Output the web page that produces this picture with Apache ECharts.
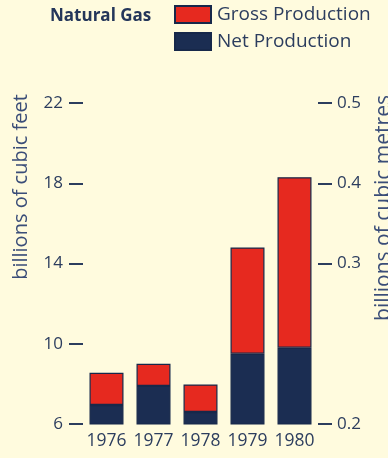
<!DOCTYPE html>
<html><head><meta charset="utf-8">
<script src="https://cdn.jsdelivr.net/npm/echarts@6/dist/echarts.min.js"></script>
<style>html,body{margin:0;padding:0;background:#FFFBDE;}#c{width:388px;height:458px;}</style>
</head><body><div id="c"></div>
<script>
const categories = ['1976','1977','1978','1979','1980'];
const netProduction = [6.95, 7.9, 6.6, 9.5, 9.8];
const grossProduction = [8.55, 9.0, 7.97, 14.8, 18.3];
const leftTicks = [6, 10, 14, 18, 22];
const rightTickPositions = [6, 14, 18, 22];
const rightTickLabels = ['0.2', '0.3', '0.4', '0.5'];

const grossExtra = grossProduction.map((g, i) => +(g - netProduction[i]).toFixed(3));
const txt = '#2c3d5e';
const font = '"Open Sans", sans-serif';
const chart = echarts.init(document.getElementById('c'));
chart.setOption({
  backgroundColor: '#FFFBDE',
  animation: false,
  title: {text: 'Natural Gas', left: 45, top: 3, textStyle: {fontFamily: font, fontWeight: 'bold', fontSize: 17, color: '#24365a'}},
  legend: {
    orient: 'vertical', left: 174, top: 5, padding: 0, itemWidth: 36, itemHeight: 17, itemGap: 8, icon: 'rect',
    data: ['Gross Production', 'Net Production'],
    textStyle: {fontFamily: font, fontSize: 19, color: txt, padding: [0,0,0,1]}
  },
  grid: {left: 83, right: 70, top: 103, bottom: 34},
  xAxis: {
    type: 'category', data: categories,
    axisLine: {show: false}, axisTick: {show: false},
    axisLabel: {interval: 0, hideOverlap: false, margin: 8, fontFamily: font, fontSize: 17.5, color: txt}
  },
  yAxis: [{
    type: 'value', min: 6, max: 22, interval: 4, position: 'left',
    axisLine: {show: false}, splitLine: {show: false},
    axisTick: {show: true, length: 14, lineStyle: {color: '#2c3d5e', width: 2}},
    axisLabel: {margin: 20, fontFamily: font, fontSize: 17, color: txt,
      customValues: leftTicks}
  }, {
    type: 'value', min: 6, max: 22, interval: 4, position: 'right',
    axisLine: {show: false}, splitLine: {show: false},
    axisTick: {show: true, length: 14, lineStyle: {color: '#2c3d5e', width: 2}, customValues: rightTickPositions},
    axisLabel: {margin: 19, fontFamily: font, fontSize: 17, color: txt,
      customValues: rightTickPositions,
      formatter: v => rightTickLabels[rightTickPositions.indexOf(v)] || ''}
  }],
  graphic: [
    {type: 'text', x: 21, y: 187, rotation: Math.PI/2, style: {text: 'billions of cubic feet', fontFamily: font, fontSize: 20, fill: '#3a4d78', align: 'center', verticalAlign: 'middle'}},
    {type: 'text', x: 384, y: 208, rotation: Math.PI/2, style: {text: 'billions of cubic metres', fontFamily: font, fontSize: 21, fill: '#3a4d78', align: 'center', verticalAlign: 'middle'}}
  ],
  series: [{
    name: 'Net Production', type: 'bar', stack: 'a', barWidth: 34, data: netProduction,
    itemStyle: {color: '#1b2d52', borderColor: '#17284a', borderWidth: 1.2}
  }, {
    name: 'Gross Production', type: 'bar', stack: 'a', barWidth: 34, data: grossExtra,
    itemStyle: {color: '#e6291f', borderColor: '#17284a', borderWidth: 1.2}
  }]
});
</script></body></html>
